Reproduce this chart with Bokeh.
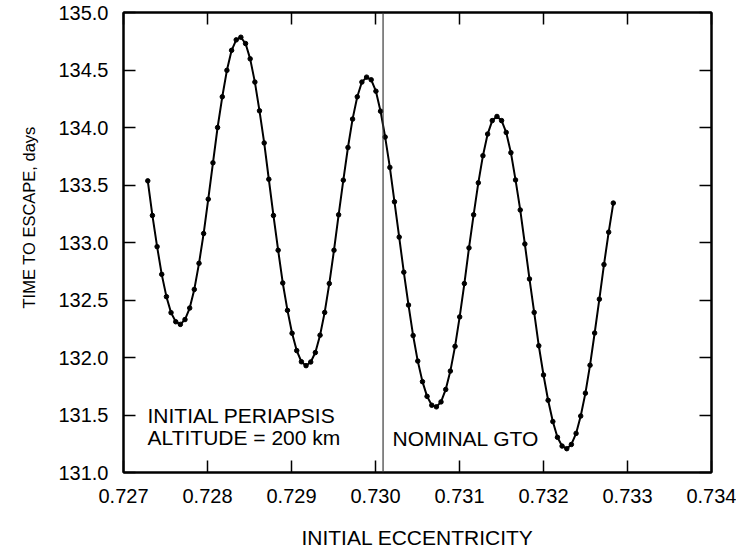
from bokeh.plotting import figure
from bokeh.models import LinearAxis, Span, Label, FixedTicker, Range1d, PrintfTickFormatter, Title
from bokeh.embed import file_html
from bokeh.resources import INLINE

# ---- data ----
eccentricity = [
    0.727289, 0.727344, 0.727400, 0.727455, 0.727511, 0.727566, 0.727622, 0.727677, 0.727732, 0.727788,
    0.727843, 0.727899, 0.727954, 0.728009, 0.728065, 0.728120, 0.728176, 0.728231, 0.728287, 0.728342,
    0.728397, 0.728453, 0.728508, 0.728564, 0.728619, 0.728675, 0.728730, 0.728785, 0.728841, 0.728896,
    0.728952, 0.729007, 0.729062, 0.729118, 0.729173, 0.729229, 0.729284, 0.729340, 0.729395, 0.729450,
    0.729506, 0.729561, 0.729617, 0.729672, 0.729727, 0.729783, 0.729838, 0.729894, 0.729949, 0.730005,
    0.730060, 0.730115, 0.730171, 0.730226, 0.730282, 0.730337, 0.730393, 0.730448, 0.730503, 0.730559,
    0.730614, 0.730670, 0.730725, 0.730780, 0.730836, 0.730891, 0.730947, 0.731002, 0.731058, 0.731113,
    0.731168, 0.731224, 0.731279, 0.731335, 0.731390, 0.731446, 0.731501, 0.731556, 0.731612, 0.731667,
    0.731723, 0.731778, 0.731833, 0.731889, 0.731944, 0.732000, 0.732055, 0.732111, 0.732166, 0.732221,
    0.732277, 0.732332, 0.732388, 0.732443, 0.732499, 0.732554, 0.732609, 0.732665, 0.732720, 0.732776,
    0.732831,
]
time_to_escape = [
    133.536, 133.235, 132.964, 132.723, 132.529, 132.390, 132.311, 132.288, 132.330, 132.430,
    132.592, 132.819, 133.078, 133.377, 133.693, 134.000, 134.267, 134.497, 134.671, 134.762,
    134.785, 134.730, 134.597, 134.395, 134.145, 133.866, 133.550, 133.235, 132.933, 132.648,
    132.410, 132.211, 132.060, 131.963, 131.929, 131.961, 132.043, 132.194, 132.392, 132.643,
    132.933, 133.241, 133.542, 133.826, 134.073, 134.267, 134.395, 134.438, 134.415, 134.316,
    134.142, 133.917, 133.653, 133.354, 133.047, 132.742, 132.456, 132.191, 131.969, 131.790,
    131.662, 131.585, 131.571, 131.614, 131.722, 131.882, 132.097, 132.353, 132.643, 132.953,
    133.241, 133.519, 133.755, 133.943, 134.060, 134.096, 134.060, 133.957, 133.781, 133.544,
    133.283, 132.987, 132.683, 132.392, 132.102, 131.848, 131.628, 131.443, 131.306, 131.230,
    131.207, 131.244, 131.340, 131.491, 131.690, 131.933, 132.213, 132.507, 132.808, 133.090,
    133.343,
]
x_ticks = [0.727, 0.728, 0.729, 0.730, 0.731, 0.732, 0.733, 0.734]
y_ticks = [131.0, 131.5, 132.0, 132.5, 133.0, 133.5, 134.0, 134.5, 135.0]
nominal_gto = 0.73009

FONT = "Liberation Sans"

p = figure(width=736, height=552, output_backend="svg", toolbar_location=None,
           x_range=Range1d(x_ticks[0], x_ticks[-1]), y_range=Range1d(y_ticks[0], y_ticks[-1]),
           min_border_left=123, min_border_right=25, min_border_top=12, min_border_bottom=80)
p.background_fill_color = "white"
p.border_fill_color = "white"
p.xgrid.visible = False
p.ygrid.visible = False
p.outline_line_color = "black"
p.outline_line_width = 2

xt = FixedTicker(ticks=x_ticks)
yt = FixedTicker(ticks=y_ticks)

def style(ax, ticker, fmt):
    ax.ticker = ticker
    ax.formatter = PrintfTickFormatter(format=fmt)
    ax.major_tick_in = 12
    ax.major_tick_out = 0
    ax.minor_tick_line_color = None
    ax.axis_line_width = 2
    ax.axis_line_color = "black"
    ax.major_tick_line_width = 1.5
    ax.major_tick_line_color = "black"
    ax.major_label_text_font = FONT
    ax.major_label_text_font_size = "20px"
    ax.major_label_text_color = "black"
    ax.axis_label_text_font = FONT
    ax.axis_label_text_font_style = "normal"
    ax.axis_label_text_color = "black"

xa = p.xaxis[0]
style(xa, xt, "%.3f")
xa.major_label_standoff = 16
xa.axis_label = "INITIAL ECCENTRICITY"
xa.axis_label_text_font_size = "21px"
xa.axis_label_standoff = 20

ya = p.yaxis[0]
style(ya, yt, "%.1f")
ya.major_label_standoff = 15

top = LinearAxis()
style(top, xt, "%.3f")
top.major_label_text_font_size = "1px"
top.major_label_text_color = None
top.major_label_standoff = 0
p.add_layout(top, "above")

right = LinearAxis()
style(right, yt, "%.1f")
right.major_label_text_font_size = "1px"
right.major_label_text_color = None
right.major_label_standoff = 0
p.add_layout(right, "right")

# y-axis title as a left-side title so it can be offset like the reference
ytitle = Title(text="TIME TO ESCAPE, days", align="left", offset=164, standoff=33,
               vertical_align="middle",
               text_font=FONT, text_font_size="16.5px", text_font_style="normal",
               text_color="black")
p.add_layout(ytitle, "left")

p.add_layout(Span(location=nominal_gto, dimension="height", line_color="#3a3a3a", line_width=1.2))

p.line(eccentricity, time_to_escape, line_color="black", line_width=2)
p.scatter(eccentricity, time_to_escape, size=4.5, color="black")

for txt, x, y in [("INITIAL PERIAPSIS", 0.727286, 131.50),
                  ("ALTITUDE = 200 km", 0.727286, 131.306),
                  ("NOMINAL GTO", 0.730203, 131.298)]:
    p.add_layout(Label(x=x, y=y, text=txt, text_font=FONT, text_font_size="21px",
                       text_color="black", text_baseline="middle", text_align="left"))

open("out.html", "w").write(file_html(p, INLINE))
